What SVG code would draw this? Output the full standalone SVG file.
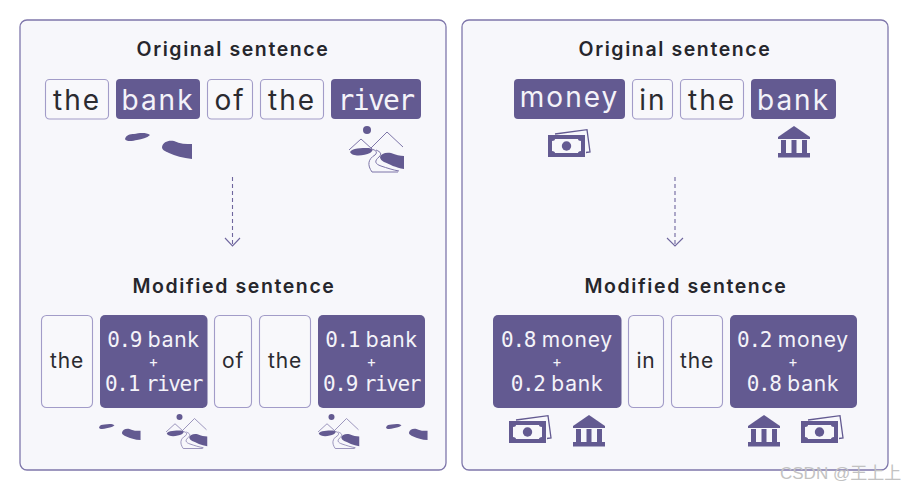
<svg xmlns="http://www.w3.org/2000/svg" width="902" height="489" viewBox="0 0 902 489">
<style>
.panel{fill:#f7f7fb;stroke:#7f77ab;stroke-width:1.3}
.w{fill:#f8f8fb;stroke:#a29cc8;stroke-width:1.1}
.p{fill:#635a91}
.tw,.tk{font-family:Inter,"Liberation Sans",sans-serif;text-anchor:middle}
.tw{fill:#f4f3f9}.tk{fill:#2b2b30}
.big{font-size:28px;letter-spacing:2px}.mid{font-size:21px;letter-spacing:.8px}
.pl{font-size:15px;letter-spacing:0}
.m{font-family:"DejaVu Sans Mono",monospace}
.mb{letter-spacing:-1.400px}.mn{letter-spacing:-1.300px}
.mB{letter-spacing:-1.700px}
.title{font-family:Inter,"Liberation Sans",sans-serif;font-weight:600;font-size:19.500px;letter-spacing:1.600px;fill:#26262c;text-anchor:middle}
.wm{font-family:"Liberation Sans","Noto Sans CJK SC",sans-serif;font-size:17px;fill:#c2c2c2}
.l{fill:none;stroke:#7d75a8;stroke-width:1}
.d{fill:none;stroke:#6f669e;stroke-width:1.1}
</style>
<defs>
<g id="rocks"><path class="p" d="M0 6C1 2 5 1 9 1C14 0 21-1 25 2C22 5 17 6 12 7C8 8 1 9 0 6Z"/><path class="p" d="M37 14C38 9 43 7 49 8C55 11 61 11 67 11V26C58 25 50 23 44 20C40 18 37 17 37 14Z"/></g>
<g id="river"><circle class="p" cx="18" cy="4" r="4"/><path class="l" d="M0 24L12 13L23 23M22 22L38 6L54 21"/><path class="p" d="M1 26C3 22 12 22 20 22C24 23 25 24 21 27C15 30 3 31 1 26Z"/><path class="p" d="M31 31C32 28 36 26 42 27C47 29 51 30 55 30V43C47 42 40 38 35 36C33 35 31 33 31 31Z"/><path class="l" d="M22 23C27 24 29 26 26 29C19 33 18 39 23 46H49M27 24C32 26 33 28 30 31C25 35 26 38 32 40C38 42 44 44 50 45"/></g>
<g id="cash"><rect class="p" x="0" y="6" width="37" height="22"/><path fill="#f7f7fb" d="M7 10H30C30 11 31 12 33 12V22C31 22 30 23 30 24H7C7 23 6 22 4 22V12C6 12 7 11 7 10Z"/><circle class="p" cx="18.500" cy="17" r="4.700"/><path d="M7 5L39 0.700L42 23L38 23.500" fill="none" stroke="#635a91" stroke-width="1.300"/></g>
<g id="bank"><path class="p" d="M16 0L32 11V13H0V11Z"/><rect class="p" x="3" y="14" width="5" height="13"/><rect class="p" x="13.500" y="14" width="5" height="13"/><rect class="p" x="24" y="14" width="5" height="13"/><rect class="p" x="0" y="27" width="32" height="4.500"/></g>
</defs>
<g id="panel-left"><rect class="panel" x="20" y="20" width="426" height="450" rx="7"/>
<text class="title" x="233" y="56">Original sentence</text>
<text class="title" x="234" y="293">Modified sentence</text></g>
<g id="panel-right"><rect class="panel" x="462" y="20" width="426" height="450" rx="7"/>
<text class="title" x="675" y="56">Original sentence</text>
<text class="title" x="686" y="293">Modified sentence</text></g>
<g id="connectors">
<path class="d" stroke-dasharray="4 3" d="M232.500 177V244"/><path class="d" d="M225 238L232.500 246L240 238"/>
<path class="d" stroke-dasharray="4 3" d="M675 177V244"/><path class="d" d="M667 238L675 246L683 238"/>
</g>
<g id="n-l1-the"><rect class="w" x="45.500" y="79.500" width="63" height="39.500" rx="4"/><text class="tk big" x="77" y="110">the</text></g>
<g id="n-l1-bank"><rect class="p" x="116" y="79" width="84" height="40" rx="4"/><text class="tw big" x="158" y="110">bank</text><use href="#rocks" x="125" y="133"/></g>
<g id="n-l1-of"><rect class="w" x="207.500" y="79.500" width="45" height="39.500" rx="4"/><text class="tk big" x="230" y="110">of</text></g>
<g id="n-l1-the2"><rect class="w" x="260.500" y="79.500" width="63" height="39.500" rx="4"/><text class="tk big" x="292" y="110">the</text></g>
<g id="n-l1-river"><rect class="p" x="331" y="79" width="90" height="40" rx="4"/><text class="tw big m mB" x="375.500" y="110">river</text><use href="#river" x="349" y="126"/></g>
<g id="n-l2-the"><rect class="w" x="41.500" y="315.500" width="51" height="92" rx="5"/><text class="tk mid" x="67" y="368">the</text></g>
<g id="n-l2-bank"><rect class="p" x="100" y="315" width="107.500" height="93" rx="5"/><text class="tw mid"><tspan x="153.500" y="347"><tspan class="m mn">0.9</tspan> bank</tspan><tspan class="pl" x="153.500" y="367">+</tspan><tspan x="153.500" y="391"><tspan class="m mn">0.1</tspan> <tspan class="m mb">river</tspan></tspan></text><use href="#rocks" transform="translate(99 424) scale(.62)"/><use href="#river" transform="translate(166 414) scale(.75)"/></g>
<g id="n-l2-of"><rect class="w" x="214.500" y="315.500" width="37" height="92" rx="5"/><text class="tk mid" x="233" y="368">of</text></g>
<g id="n-l2-the2"><rect class="w" x="259.500" y="315.500" width="51" height="92" rx="5"/><text class="tk mid" x="285" y="368">the</text></g>
<g id="n-l2-river"><rect class="p" x="318" y="315" width="107" height="93" rx="5"/><text class="tw mid"><tspan x="371.500" y="347"><tspan class="m mn">0.1</tspan> bank</tspan><tspan class="pl" x="371.500" y="367">+</tspan><tspan x="371.500" y="391"><tspan class="m mn">0.9</tspan> <tspan class="m mb">river</tspan></tspan></text><use href="#river" transform="translate(318 414) scale(.75)"/><use href="#rocks" transform="translate(386 424) scale(.62)"/></g>
<g id="n-r1-money"><rect class="p" x="514" y="79" width="111" height="40" rx="4"/><text class="tw big" x="569.500" y="107">money</text><use href="#cash" x="548" y="129"/></g>
<g id="n-r1-in"><rect class="w" x="632.500" y="79.500" width="40" height="39.500" rx="4"/><text class="tk big" x="653" y="110">in</text></g>
<g id="n-r1-the"><rect class="w" x="680.500" y="79.500" width="63" height="39.500" rx="4"/><text class="tk big" x="712" y="110">the</text></g>
<g id="n-r1-bank"><rect class="p" x="751" y="79" width="85" height="40" rx="4"/><text class="tw big" x="793.500" y="110">bank</text><use href="#bank" x="778" y="126"/></g>
<g id="n-r2-money"><rect class="p" x="493" y="315" width="128.500" height="93" rx="5"/><text class="tw mid"><tspan x="557" y="347"><tspan class="m mn">0.8</tspan> money</tspan><tspan class="pl" x="557" y="367">+</tspan><tspan x="557" y="391"><tspan class="m mn">0.2</tspan> bank</tspan></text><use href="#cash" x="509" y="415"/><use href="#bank" x="573" y="415"/></g>
<g id="n-r2-in"><rect class="w" x="628.500" y="315.500" width="35" height="92" rx="5"/><text class="tk mid" x="646" y="368">in</text></g>
<g id="n-r2-the"><rect class="w" x="671.500" y="315.500" width="51" height="92" rx="5"/><text class="tk mid" x="697" y="368">the</text></g>
<g id="n-r2-bank"><rect class="p" x="730" y="315" width="127" height="93" rx="5"/><text class="tw mid"><tspan x="793" y="347"><tspan class="m mn">0.2</tspan> money</tspan><tspan class="pl" x="793" y="367">+</tspan><tspan x="793" y="391"><tspan class="m mn">0.8</tspan> bank</tspan></text><use href="#bank" x="748" y="415"/><use href="#cash" x="801" y="415"/></g>
<text class="wm" x="780" y="479">CSDN @王上上</text>
</svg>
